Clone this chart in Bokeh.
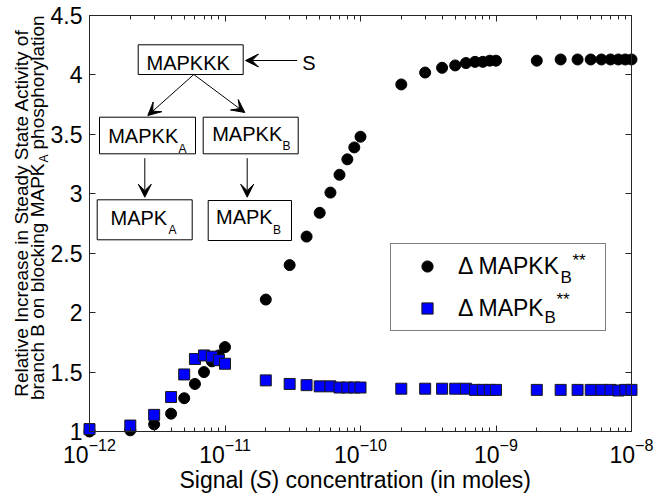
from bokeh.plotting import figure
from bokeh.models import (Range1d, LogTicker, FixedTicker, LinearAxis, LogAxis,
                          NumeralTickFormatter, CustomJSTickFormatter, Label, BoxAnnotation,
                          Arrow, VeeHead, Legend, LegendItem)
from bokeh.embed import file_html
from bokeh.resources import INLINE
import math

# ---------------- data ----------------
signal = [1e-12, 2e-12, 3e-12, 4e-12, 5e-12, 6e-12, 7e-12, 8e-12, 9e-12,
          1e-11, 2e-11, 3e-11, 4e-11, 5e-11, 6e-11, 7e-11, 8e-11, 9e-11,
          1e-10, 2e-10, 3e-10, 4e-10, 5e-10, 6e-10, 7e-10, 8e-10, 9e-10,
          1e-9, 2e-9, 3e-9, 4e-9, 5e-9, 6e-9, 7e-9, 8e-9, 9e-9, 1e-8]
delta_mapkk_b = [1.00, 1.01, 1.06, 1.15, 1.28, 1.40, 1.50, 1.59, 1.64,
                 1.71, 2.11, 2.40, 2.64, 2.84, 3.01, 3.16, 3.29, 3.39,
                 3.48, 3.92, 4.02, 4.06, 4.08, 4.10, 4.11, 4.11, 4.12,
                 4.12, 4.12, 4.13, 4.13, 4.13, 4.13, 4.13, 4.13, 4.13, 4.13]
delta_mapk_b = [1.02, 1.05, 1.14, 1.29, 1.48, 1.61, 1.64, 1.63, 1.60,
                1.57, 1.43, 1.40, 1.39, 1.38, 1.38, 1.37, 1.37, 1.37,
                1.37, 1.36, 1.36, 1.36, 1.36, 1.36, 1.35, 1.35, 1.35,
                1.35, 1.35, 1.35, 1.35, 1.35, 1.35, 1.35, 1.345, 1.35, 1.35]
y_ticks = [1, 1.5, 2, 2.5, 3, 3.5, 4, 4.5]
y_tick_labels = ["1", "1.5", "2", "2.5", "3", "3.5", "4", "4.5"]
x_min, x_max = 1e-12, 1e-8
y_min, y_max = 1, 4.5

# ---------------- layout (pixels) ----------------
W, H = 661, 498
AX_L, AX_R, AX_T, AX_B = 89, 631, 15, 431   # where the axes box sits on the canvas
FONT = "Liberation Sans"
AX = "#262626"

# the frame covers the whole canvas; the axes box is placed with fixed_location/bounds
ppd = (AX_R - AX_L) / (math.log10(x_max) - math.log10(x_min))
xlo = 10 ** (math.log10(x_min) - AX_L / ppd)
xhi = 10 ** (math.log10(x_max) + (W - AX_R) / ppd)
ppu = (AX_B - AX_T) / (y_max - y_min)
ylo = y_min - (H - AX_B) / ppu
yhi = y_max + AX_T / ppu

p = figure(width=W, height=H, x_axis_type="log",
           x_range=Range1d(xlo, xhi), y_range=Range1d(ylo, yhi),
           output_backend="svg", toolbar_location=None,
           min_border_left=0, min_border_right=0, min_border_top=0, min_border_bottom=0)
p.grid.visible = False
p.outline_line_color = None
p.background_fill_color = "white"
p.border_fill_color = "white"

def style_axis(ax, standoff):
    ax.axis_line_color = AX
    ax.major_tick_line_color = AX
    ax.minor_tick_line_color = AX
    ax.major_tick_in = 6
    ax.major_tick_out = 0
    ax.minor_tick_in = 4
    ax.minor_tick_out = 0
    ax.major_label_text_font = FONT
    ax.major_label_text_color = "black"
    ax.major_label_text_font_size = "23px"
    ax.major_label_standoff = standoff

xb = p.xaxis[0]
xb.ticker = LogTicker(desired_num_ticks=5, num_minor_ticks=10)
xb.fixed_location = y_min
xb.bounds = (x_min, x_max)
style_axis(xb, 6)

yl = p.yaxis[0]
yl.ticker = FixedTicker(ticks=y_ticks)
yl.formatter = NumeralTickFormatter(format="0.[0]")
yl.fixed_location = x_min
yl.bounds = (y_min, y_max)
style_axis(yl, 7)

xt = LogAxis(ticker=LogTicker(desired_num_ticks=5, num_minor_ticks=10),
             formatter=CustomJSTickFormatter(code="return ''"),
             fixed_location=y_max, bounds=(x_min, x_max))
style_axis(xt, 0)
p.add_layout(xt, "above")
yr = LinearAxis(ticker=FixedTicker(ticks=y_ticks),
                formatter=CustomJSTickFormatter(code="return ''"),
                fixed_location=x_max, bounds=(y_min, y_max))
style_axis(yr, 0)
p.add_layout(yr, "right")

# ---------------- data marks ----------------
r1 = p.scatter(signal, delta_mapkk_b, marker="circle", size=11,
               fill_color="black", line_color="black")
r2 = p.scatter(signal, delta_mapk_b, marker="square", size=11,
               fill_color="#0000ff", line_color="#1a1a1a", line_width=1)

legend = Legend(items=[LegendItem(label="\u0394 MAPKK", renderers=[r1]),
                       LegendItem(label="\u0394 MAPK", renderers=[r2])],
                location=(390, H - 331), orientation="vertical",
                glyph_width=56, glyph_height=28, label_height=28, label_width=139,
                label_standoff=3, padding=8, spacing=14, margin=0,
                border_line_color="black", border_line_width=1,
                background_fill_alpha=0,
                label_text_font=FONT, label_text_font_size="23px", label_text_color="black")
p.add_layout(legend)

# ---------------- helpers (page pixel coordinates, origin top-left) ----------------
SHIFT = 0.3   # compensates where the renderer puts the alphabetic baseline

def txt(text, px, py, size, align="left", angle=0, style="normal"):
    if angle == 0:
        py = py - SHIFT * size
    else:
        px = px - SHIFT * size
    p.add_layout(Label(text=text, x=px, y=H - py, x_units="screen", y_units="screen",
                       text_font=FONT, text_font_size=f"{size}px", text_align=align,
                       text_baseline="alphabetic", angle=angle, text_color="black",
                       text_font_style=style, level="overlay"))

def box(l, r, t, b):
    p.add_layout(BoxAnnotation(left=l, right=r, top=H - t, bottom=H - b,
                               left_units="screen", right_units="screen",
                               top_units="screen", bottom_units="screen",
                               fill_color="white", fill_alpha=1,
                               line_color="black", line_width=1, line_alpha=1))

def arrow(x0, y0, x1, y1):
    p.add_layout(Arrow(x_start=x0, y_start=H - y0, x_end=x1, y_end=H - y1,
                       start_units="screen", end_units="screen",
                       line_color="black", line_width=1,
                       end=VeeHead(size=13, fill_color="black", line_color="black", line_width=1)))

# legend sub/superscripts
txt("B", 560, 282, 17)
txt("**", 572, 265, 17)
txt("B", 544, 322, 17)
txt("**", 556, 304.5, 17)

# ---------------- pathway diagram ----------------
box(137.7, 242.7, 44.3, 74)
box(99, 195, 116.7, 153.3)
box(202.7, 297.7, 116.7, 153.3)
box(96.7, 191.7, 199.3, 239.3)
box(207.7, 291, 200, 240)

txt("MAPKKK", 146, 68.3, 20)
txt("S", 301.7, 68.3, 20)
txt("MAPKK", 107.7, 141.7, 20)
txt("A", 178, 151.7, 12)
txt("MAPKK", 211.7, 139.5, 20)
txt("B", 282, 149.3, 12)
txt("MAPK", 110, 223, 20)
txt("A", 168, 233.3, 12)
txt("MAPK", 215.5, 222, 20)
txt("B", 272.5, 233.3, 12)

arrow(296.7, 60, 245, 60)
arrow(193.3, 74, 147.3, 115)
arrow(193.3, 74, 244.3, 112)
arrow(144.3, 157.7, 144.3, 196.7)
arrow(246.7, 157.7, 246.7, 196.7)

# ---------------- axis titles ----------------
txt("Signal (", 257, 486.7, 23, align="right")
txt("S", 263.5, 486.7, 23, align="center", style="italic")
txt(") concentration (in moles)", 271, 486.7, 23, align="left")

ang = math.pi / 2
txt("Relative Increase in Steady State Activity of", 26.5, 212.5, 19, align="center", angle=ang)
txt("branch B on blocking MAPK", 43, 163, 19, align="right", angle=ang)
txt("A", 47.5, 162, 12, align="left", angle=ang)
txt("phosphorylation", 43, 149, 19, align="left", angle=ang)

open("out.html", "w").write(file_html(p, INLINE))
